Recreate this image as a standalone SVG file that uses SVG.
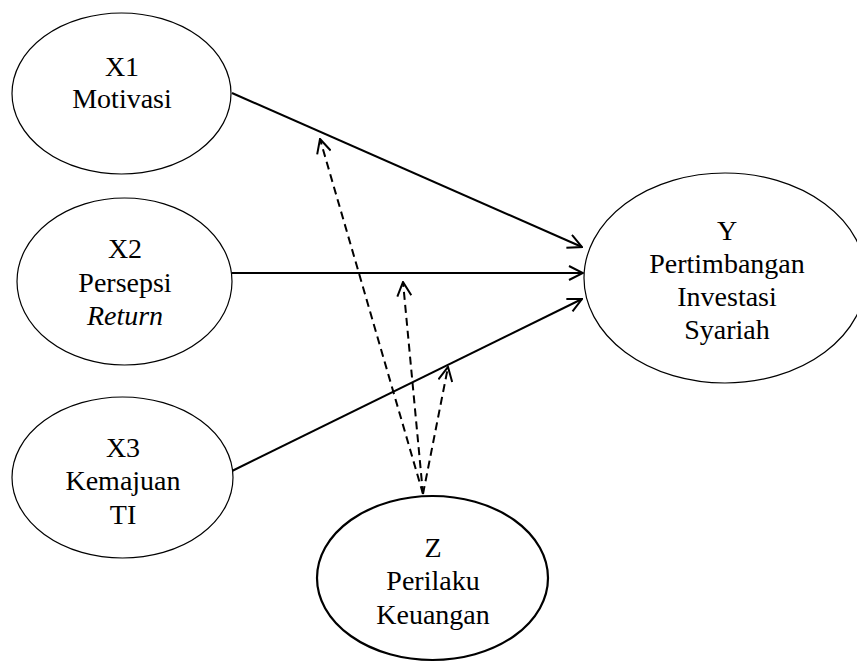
<svg xmlns="http://www.w3.org/2000/svg" width="857" height="664" viewBox="0 0 857 664">
<style>
.node{fill:#fff;stroke:#000;stroke-width:1.2}
.thick{stroke-width:2.2}
text{font-family:"Liberation Serif","Times New Roman",serif;font-size:28px;fill:#000;text-anchor:middle}
.it{font-style:italic}
.solid{stroke:#000;stroke-width:2;fill:none}
.dash{stroke:#000;stroke-width:2;fill:none;stroke-dasharray:8 5}
</style>
<defs>
<marker id="arr" viewBox="0 0 16 16" refX="15" refY="8" markerWidth="16" markerHeight="16" markerUnits="userSpaceOnUse" orient="auto">
<path d="M1,1 L15,8 L1,15" fill="none" stroke="#000" stroke-width="2"/>
</marker>
</defs>
<g id="connectors">
<line class="solid" x1="232" y1="93" x2="582" y2="247" marker-end="url(#arr)"/>
<line class="solid" x1="232" y1="273" x2="583" y2="273" marker-end="url(#arr)"/>
<line class="solid" x1="232" y1="471" x2="582" y2="299" marker-end="url(#arr)"/>
<line class="dash" x1="423" y1="494" x2="320" y2="139" marker-end="url(#arr)"/>
<line class="dash" x1="423" y1="494" x2="403" y2="282" marker-end="url(#arr)"/>
<line class="dash" x1="423" y1="494" x2="448" y2="367" marker-end="url(#arr)"/>
</g>
<g id="X1">
<ellipse class="node" cx="121.5" cy="93.5" rx="109.5" ry="80.5"/>
<text x="122" y="76">X1</text>
<text x="122" y="108">Motivasi</text>
</g>
<g id="X2">
<ellipse class="node" cx="124.5" cy="281.5" rx="107.5" ry="83.5"/>
<text x="125" y="258">X2</text>
<text x="125" y="292">Persepsi</text>
<text x="125" y="325" class="it">Return</text>
</g>
<g id="X3">
<ellipse class="node" cx="122.5" cy="477.5" rx="110.5" ry="80.5"/>
<text x="123" y="457">X3</text>
<text x="123" y="490">Kemajuan</text>
<text x="123" y="524">TI</text>
</g>
<g id="Y">
<ellipse class="node" cx="725" cy="278" rx="141" ry="105"/>
<text x="727" y="240">Y</text>
<text x="727" y="273">Pertimbangan</text>
<text x="727" y="306">Investasi</text>
<text x="727" y="339">Syariah</text>
</g>
<g id="Z">
<ellipse class="node thick" cx="432.5" cy="578" rx="115.5" ry="82"/>
<text x="433" y="557">Z</text>
<text x="433" y="590">Perilaku</text>
<text x="433" y="624">Keuangan</text>
</g>
</svg>
